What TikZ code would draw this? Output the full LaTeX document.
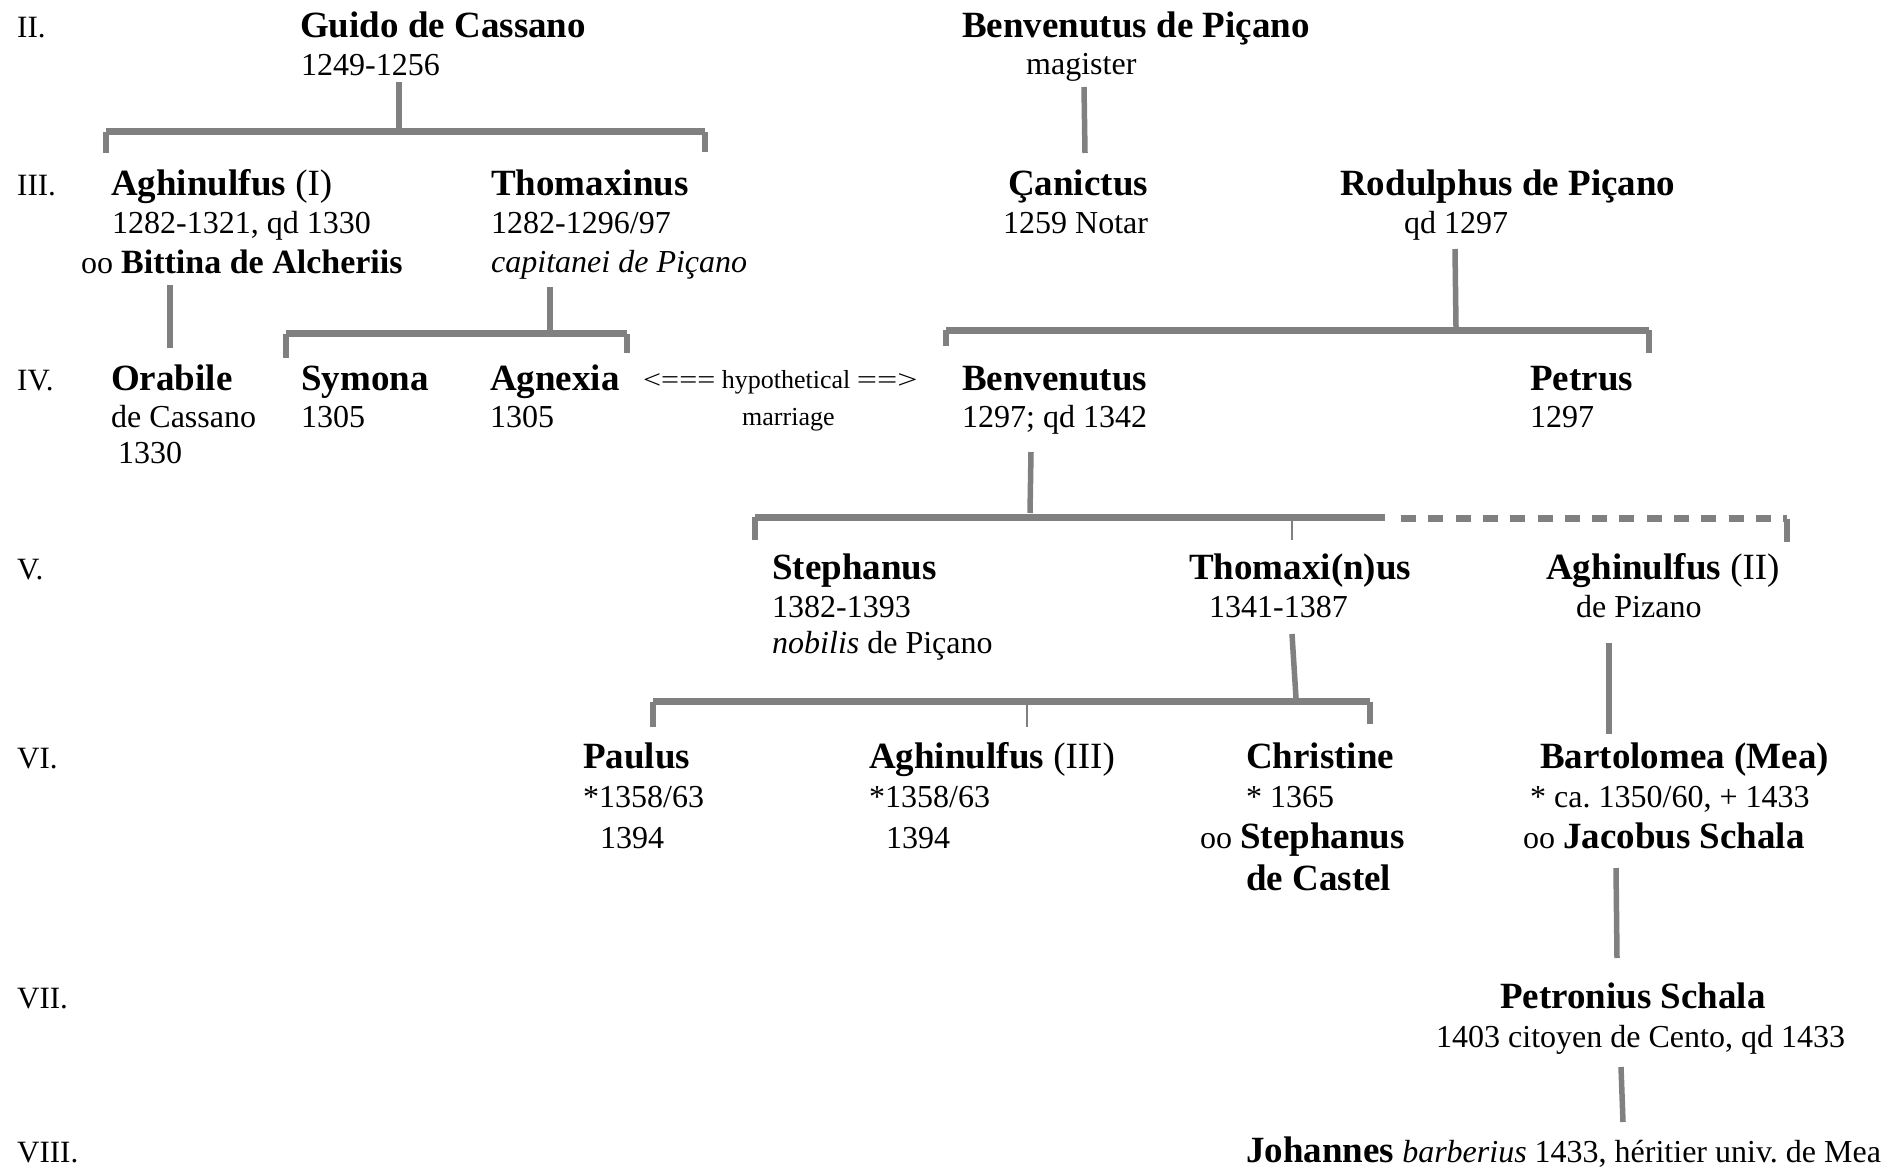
\documentclass[tikz,border=0pt]{standalone}
\usepackage{fontspec}
\usepackage{graphicx}
\setmainfont{Liberation Serif}
\frenchspacing
\definecolor{linegray}{RGB}{128,128,128}
\newcommand{\bnm}[1]{{\fontsize{37}{44}\selectfont\bfseries #1}}
\begin{document}
\begin{tikzpicture}[x=1pt,y=-1pt,
  lbl/.style={anchor=base west, inner sep=0pt, font=\fontsize{31}{36}\selectfont},
  nm/.style={anchor=base west, inner sep=0pt, font=\fontsize{37}{44}\selectfont\bfseries},
  tx/.style={anchor=base west, inner sep=0pt, font=\fontsize{32}{38}\selectfont},
  sm/.style={anchor=base west, inner sep=0pt, font=\fontsize{26}{30}\selectfont},
  stem/.style={draw=linegray, line width=5.5pt},
  bar/.style={draw=linegray, line width=7pt},
  dbar/.style={draw=linegray, line width=7pt, dash pattern=on 15pt off 12.3pt},
  thinline/.style={draw=linegray, line width=1.2pt}]
\useasboundingbox (0,0) rectangle (1901,1170);

% generation labels
\node[lbl] (gII) at (17,37) {II.};
\node[lbl] (gIII) at (17,195) {III.};
\node[lbl] (gIV) at (17,390) {IV.};
\node[lbl] (gV) at (17,579) {V.};
\node[lbl] (gVI) at (17,768) {VI.};
\node[lbl] (gVII) at (17,1008) {VII.};
\node[lbl] (gVIII) at (17,1162) {VIII.};

% generation II
\node[nm] (guido) at (300,37) {Guido de Cassano};
\node[tx] (guidoA) at (301,75) {1249-1256};
\node[nm] (benpic) at (962,37) {Benvenutus de Piçano};
\node[tx] (benpicA) at (1026,74) {magister};

% generation III
\node[nm] (agh1) at (111,195) {Aghinulfus \textmd{(I)}};
\node[tx] (agh1A) at (112,233) {1282-1321, qd 1330};
\node[tx] (agh1B) at (81,273) {oo {\fontsize{34}{40}\selectfont\bfseries Bittina de Alcheriis}};
\node[nm] (thomax) at (491,195) {Thomaxinus};
\node[tx] (thomaxA) at (491,233) {1282-1296/97};
\node[tx] (thomaxB) at (491,272) {\itshape capitanei de Piçano};
\node[nm] (canict) at (1008,195) {Çanictus};
\node[tx] (canictA) at (1003,233) {1259 Notar};
\node[nm] (rodul) at (1340,195) {Rodulphus de Piçano};
\node[tx] (rodulA) at (1404,233) {qd 1297};

% generation IV
\node[nm] (orab) at (111,390) {Orabile};
\node[tx] (orabA) at (111,427) {de Cassano};
\node[tx] (orabB) at (118,463) {1330};
\node[nm] (symona) at (301,390) {Symona};
\node[tx] (symonaA) at (301,427) {1305};
\node[nm] (agnex) at (490,390) {Agnexia};
\node[tx] (agnexA) at (490,427) {1305};
\node[sm] (hypo) at (643,388) {\scalebox{1.23}[1]{<===} hypothetical \scalebox{1.38}[1]{==>}};
\node[sm] (marr) at (742,425) {marriage};
\node[nm] (benv) at (962,390) {Benvenutus};
\node[tx] (benvA) at (962,427) {1297; qd 1342};
\node[nm] (petrus) at (1530,390) {Petrus};
\node[tx] (petrusA) at (1530,427) {1297};

% generation V
\node[nm] (steph) at (772,579) {Stephanus};
\node[tx] (stephA) at (772,617) {1382-1393};
\node[tx] (stephB) at (772,653) {\textit{nobilis} de Piçano};
\node[nm] (thomv) at (1189,579) {Thomaxi(n)us};
\node[tx] (thomvA) at (1209,617) {1341-1387};
\node[nm] (agh2) at (1546,579) {Aghinulfus \textmd{(II)}};
\node[tx] (agh2A) at (1576,617) {de Pizano};

% generation VI
\node[nm] (paulus) at (583,768) {Paulus};
\node[tx] (paulusA) at (583,807) {*1358/63};
\node[tx] (paulusB) at (600,848) {1394};
\node[nm] (agh3) at (869,768) {Aghinulfus \textmd{(III)}};
\node[tx] (agh3A) at (869,807) {*1358/63};
\node[tx] (agh3B) at (886,848) {1394};
\node[nm] (christ) at (1246,768) {Christine};
\node[tx] (christA) at (1246,807) {* 1365};
\node[tx] (christB) at (1200,848) {oo \bnm{Stephanus}};
\node[nm] (christC) at (1246,890) {de Castel};
\node[nm] (bart) at (1540,768) {Bartolomea (Mea)};
\node[tx] (bartA) at (1530,807) {* ca. 1350/60, + 1433};
\node[tx] (bartB) at (1523,848) {oo \bnm{Jacobus Schala}};

% generation VII
\node[nm] (petron) at (1500,1008) {Petronius Schala};
\node[tx] (petronA) at (1436,1047) {1403 citoyen de Cento, qd 1433};

% generation VIII
\node[tx] (johan) at (1246,1162) {\bnm{Johannes} \textit{barberius} 1433, héritier univ. de Mea};

% ---- connector coordinates
\coordinate (g1) at (399,82);   \coordinate (g2) at (399,128);
\coordinate (gL) at (106,131.5); \coordinate (gR) at (705,131.5);
\coordinate (gLd) at (106,153); \coordinate (gRd) at (705,152);
\coordinate (o1) at (170,285);  \coordinate (o2) at (170,348);
\coordinate (t1) at (550,287);  \coordinate (t2) at (550,330);
\coordinate (tL) at (286,333.5); \coordinate (tR) at (627,333.5);
\coordinate (tLd) at (286,358); \coordinate (tRd) at (627,353);
\coordinate (c1) at (1084,87);  \coordinate (c2) at (1085,153);
\coordinate (r1) at (1455,249); \coordinate (r2) at (1456,327);
\coordinate (rL) at (946,330);  \coordinate (rR) at (1649,330);
\coordinate (rLd) at (946,346); \coordinate (rRd) at (1649,353);
\coordinate (b1) at (1031,452); \coordinate (b2) at (1030,513);
\coordinate (bL) at (755,517); \coordinate (bM) at (1385,517);
\coordinate (bD) at (1401,518.5); \coordinate (bR) at (1787,518.5);
\coordinate (bLd) at (755,540); \coordinate (bRd) at (1787,542);
\coordinate (bT1) at (1292,520); \coordinate (bT2) at (1292,540);
\coordinate (v1) at (1292,634); \coordinate (v2) at (1296,698);
\coordinate (vL) at (653,701.5); \coordinate (vR) at (1370,701.5);
\coordinate (vLd) at (653,727); \coordinate (vRd) at (1370,724);
\coordinate (vT1) at (1027,705); \coordinate (vT2) at (1027,727);
\coordinate (a1) at (1609,643); \coordinate (a2) at (1609,734);
\coordinate (m1) at (1616,868); \coordinate (m2) at (1617,958);
\coordinate (p1) at (1621,1067); \coordinate (p2) at (1623,1122);

% ---- connectors
\draw[stem] (g1) -- (g2);
\draw[bar] (gL) -- (gR);
\draw[stem] (gL) -- (gLd);
\draw[stem] (gR) -- (gRd);
\draw[stem] (o1) -- (o2);
\draw[stem] (t1) -- (t2);
\draw[bar] (tL) -- (tR);
\draw[stem] (tL) -- (tLd);
\draw[stem] (tR) -- (tRd);
\draw[stem] (c1) -- (c2);
\draw[stem] (r1) -- (r2);
\draw[bar] (rL) -- (rR);
\draw[stem] (rL) -- (rLd);
\draw[stem] (rR) -- (rRd);
\draw[stem] (b1) -- (b2);
\draw[bar] (bL) -- (bM);
\draw[dbar] (bD) -- (bR);
\draw[stem] (bL) -- (bLd);
\draw[stem] (bR) -- (bRd);
\draw[thinline] (bT1) -- (bT2);
\draw[stem] (v1) -- (v2);
\draw[bar] (vL) -- (vR);
\draw[stem] (vL) -- (vLd);
\draw[stem] (vR) -- (vRd);
\draw[thinline] (vT1) -- (vT2);
\draw[stem] (a1) -- (a2);
\draw[stem] (m1) -- (m2);
\draw[stem] (p1) -- (p2);
\end{tikzpicture}
\end{document}
